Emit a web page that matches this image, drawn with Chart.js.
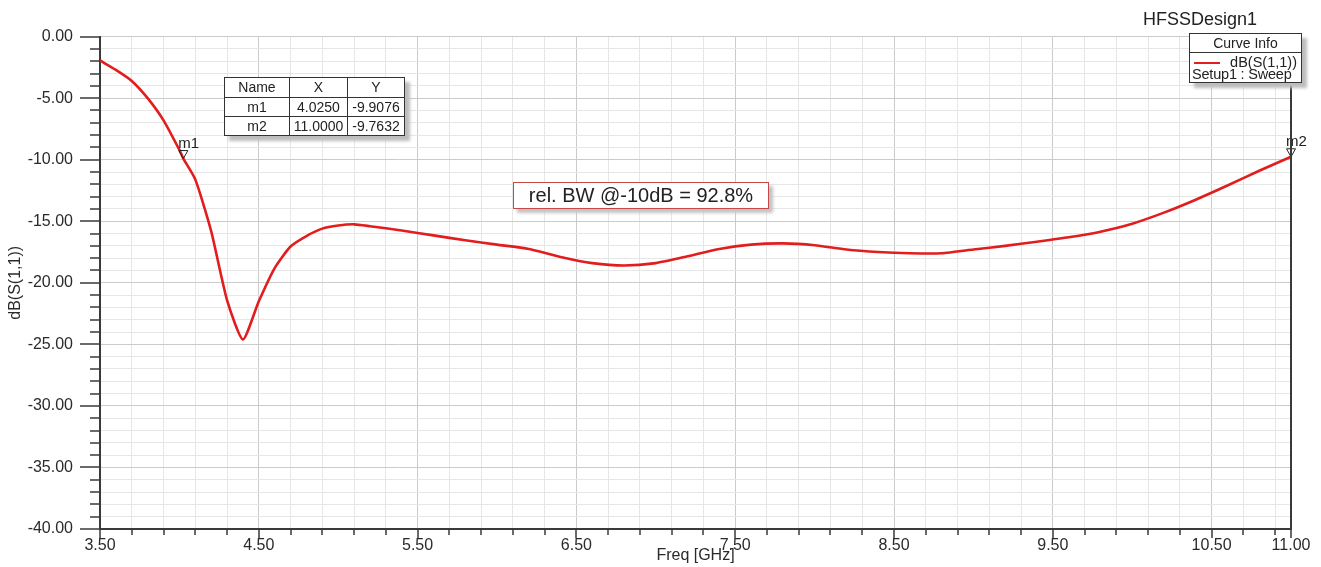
<!DOCTYPE html>
<html>
<head>
<meta charset="utf-8">
<script src="https://cdn.jsdelivr.net/npm/chart.js@4.4.1/dist/chart.umd.min.js"></script>
<style>
  html, body { margin: 0; padding: 0; background: #fff; }
  body { font-family: "Liberation Sans", Arial, sans-serif; color: #222; }
  #wrap { position: relative; width: 1321px; height: 567px; overflow: hidden; }
  #plot { position: absolute; left: 0; top: 0; }
  .design { position: absolute; left: 1143px; top: 8px; font-size: 18px; line-height: 22px; }
  .curveInfo { position: absolute; left: 1189px; top: 33px; width: 111px; height: 48px; background: #fff;
    border: 1px solid #333; box-shadow: 5px 5px 3px #bdbdbd; font-size: 14px; }
  .curveInfo .hd { height: 18px; line-height: 18px; text-align: center; border-bottom: 1px solid #333; }
  .curveInfo .sw { position: absolute; left: 4px; top: 28px; width: 26px; height: 2px; background: #e02020; }
  .curveInfo .nm { position: absolute; right: 4px; top: 21px; font-size: 14.5px; line-height: 15px; }
  .curveInfo .st { position: absolute; left: 2px; top: 33px; font-size: 14.5px; line-height: 15px; white-space: nowrap; letter-spacing: -0.2px; }
  .mk { position: absolute; left: 224px; top: 77px; border-collapse: collapse; background: #fff;
    box-shadow: 5px 5px 3px #bdbdbd; font-size: 14px; }
  .mk td { border: 1px solid #333; text-align: center; padding: 0; height: 18px; line-height: 17px; }
  .bw { position: absolute; left: 513px; top: 182px; width: 254px; height: 25px; line-height: 25px; background: #fff;
    border: 1px solid #c84848; box-shadow: 4px 4px 3px #c4c4c4; font-size: 20px; text-align: center; }
</style>
</head>
<body>
<div id="wrap">
  <canvas id="plot" width="1321" height="567"></canvas>
  <div class="design">HFSSDesign1</div>
  <div class="curveInfo">
    <div class="hd">Curve Info</div>
    <div class="sw"></div>
    <div class="nm">dB(S(1,1))</div>
    <div class="st">Setup1 : Sweep</div>
  </div>
  <table class="mk" id="markerTable"></table>
  <div class="bw">rel. BW @-10dB = 92.8%</div>
</div>
<script>
// ─── S11 SWEEP DATA ──────────────────────────────────────────────────────────
const freqGHz = [3.5, 3.6, 3.7, 3.8, 3.9, 4.0, 4.025, 4.1, 4.2, 4.3, 4.4, 4.5, 4.6, 4.7, 4.8, 4.9,
  5.0, 5.1, 5.2, 5.4, 5.6, 5.8, 6.0, 6.2, 6.4, 6.6, 6.8, 7.0, 7.2, 7.4, 7.6, 7.8, 8.0, 8.2,
  8.4, 8.6, 8.8, 9.0, 9.2, 9.4, 9.6, 9.8, 10.0, 10.2, 10.4, 10.6, 10.8, 11.0];
const s11dB = [-1.94, -2.7, -3.6, -5.0, -6.8, -9.2, -9.91, -11.6, -15.8, -21.4, -24.6, -21.5, -18.8, -17.05, -16.2, -15.6,
  -15.35, -15.25, -15.4, -15.75, -16.15, -16.55, -16.9, -17.25, -17.9, -18.4, -18.6, -18.4, -17.85, -17.25, -16.9, -16.8, -16.95, -17.3,
  -17.5, -17.6, -17.6, -17.3, -17.0, -16.66, -16.3, -15.85, -15.2, -14.3, -13.25, -12.1, -10.9, -9.76];

const markerNames = ['m1', 'm2'];
const markerFreq = [4.025, 11.0];
const markerDb = [-9.9076, -9.7632];
const markerFreqText = ['4.0250', '11.0000'];
const markerDbText = ['-9.9076', '-9.7632'];

const xLabelValues = [3.5, 4.5, 5.5, 6.5, 7.5, 8.5, 9.5, 10.5, 11.0];
const xTickLabels = ['3.50', '4.50', '5.50', '6.50', '7.50', '8.50', '9.50', '10.50', '11.00'];
const yLabelValues = [0, -5, -10, -15, -20, -25, -30, -35, -40];
const yTickLabels = ['0.00', '-5.00', '-10.00', '-15.00', '-20.00', '-25.00', '-30.00', '-35.00', '-40.00'];

const FONT = '"Liberation Sans", Arial, sans-serif';

function labelIndex(list, v) {
  return list.findIndex(l => Math.abs(l - v) < 1e-6);
}

// marker table
(function buildTable() {
  let html = '<tr><td style="width:64px;height:19px">Name</td><td style="width:57px">X</td><td style="width:56px">Y</td></tr>';
  markerNames.forEach((n, i) => {
    html += `<tr><td>${n}</td><td>${markerFreqText[i]}</td><td>${markerDbText[i]}</td></tr>`;
  });
  document.getElementById('markerTable').innerHTML = html;
})();

// tick marks + right frame line
const axisTicks = {
  id: 'axisTicks',
  afterDraw(chart) {
    const { ctx, chartArea: a, scales: { x, y } } = chart;
    ctx.save();
    ctx.strokeStyle = '#3a3a3a';
    ctx.lineWidth = 1.5;
    ctx.beginPath();
    x.ticks.forEach(t => {
      const px = Math.round(x.getPixelForValue(t.value));
      const len = labelIndex(xLabelValues, t.value) >= 0 ? 9 : 6;
      ctx.moveTo(px, a.bottom); ctx.lineTo(px, a.bottom + len);
    });
    y.ticks.forEach(t => {
      const py = Math.round(y.getPixelForValue(t.value));
      const len = labelIndex(yLabelValues, t.value) >= 0 ? 20 : 10;
      ctx.moveTo(a.left - len, py); ctx.lineTo(a.left, py);
    });
    ctx.stroke();
    ctx.lineWidth = 2;
    ctx.beginPath();
    ctx.moveTo(a.right, a.top); ctx.lineTo(a.right, a.bottom);
    ctx.stroke();
    ctx.restore();
  }
};

// HFSS style markers (inverted triangle with name)
const markers = {
  id: 'markers',
  afterDatasetsDraw(chart) {
    const { ctx, scales: { x, y } } = chart;
    ctx.save();
    ctx.strokeStyle = '#222';
    ctx.fillStyle = '#222';
    ctx.lineWidth = 1;
    ctx.font = '15px ' + FONT;
    ctx.textAlign = 'left';
    ctx.textBaseline = 'alphabetic';
    markerNames.forEach((n, i) => {
      const px = x.getPixelForValue(markerFreq[i]);
      const py = y.getPixelForValue(markerDb[i]);
      ctx.beginPath();
      ctx.moveTo(px, py);
      ctx.lineTo(px - 4.5, py - 8);
      ctx.lineTo(px + 4.5, py - 8);
      ctx.closePath();
      ctx.stroke();
      ctx.fillText(n, px - 5, py - 11);
    });
    ctx.restore();
  }
};

new Chart(document.getElementById('plot').getContext('2d'), {
  type: 'line',
  data: {
    datasets: [{
      label: 'dB(S(1,1))',
      data: freqGHz.map((f, i) => ({ x: f, y: s11dB[i] })),
      borderColor: '#e21d1d',
      borderWidth: 2.6,
      pointRadius: 0,
      tension: 0.2,
      fill: false
    }]
  },
  options: {
    responsive: false,
    animation: false,
    events: [],
    layout: { padding: { left: 0, top: 35, right: 30, bottom: 0 } },
    plugins: { legend: { display: false }, tooltip: { enabled: false } },
    scales: {
      x: {
        type: 'linear',
        min: 3.5,
        max: 11,
        afterBuildTicks: s => {
          const t = [];
          for (let k = 0; k < 38; k++) t.push({ value: Math.round((3.5 + 0.2 * k) * 1000) / 1000 });
          t.push({ value: 11 });
          s.ticks = t;
        },
        afterFit: s => { s.height = 38; },
        grid: {
          drawTicks: false,
          color: c => labelIndex(xLabelValues, c.tick.value) >= 0 ? '#cbcbcb' : '#e6e6e6',
          lineWidth: 1
        },
        border: { display: true, color: '#3a3a3a', width: 2 },
        ticks: {
          autoSkip: false,
          maxRotation: 0,
          padding: 7,
          color: '#2a2a2a',
          font: { family: FONT, size: 16 },
          callback: v => { const i = labelIndex(xLabelValues, v); return i >= 0 ? xTickLabels[i] : ''; }
        },
        title: {
          display: true,
          text: 'Freq [GHz]',
          color: '#2a2a2a',
          font: { family: FONT, size: 16 },
          padding: { top: 0, bottom: 2 }
        }
      },
      y: {
        type: 'linear',
        min: -40,
        max: 0,
        afterBuildTicks: s => {
          const t = [];
          for (let v = 0; v >= -40; v--) t.push({ value: v });
          s.ticks = t;
        },
        afterFit: s => { s.width = 100; },
        grid: {
          drawTicks: false,
          color: c => labelIndex(yLabelValues, c.tick.value) >= 0 ? '#cbcbcb' : '#e6e6e6',
          lineWidth: 1
        },
        border: { display: true, color: '#3a3a3a', width: 2 },
        ticks: {
          autoSkip: false,
          padding: 27,
          color: '#2a2a2a',
          font: { family: FONT, size: 16 },
          callback: v => { const i = labelIndex(yLabelValues, v); return i >= 0 ? yTickLabels[i] : ''; }
        },
        title: {
          display: true,
          text: 'dB(S(1,1))',
          color: '#2a2a2a',
          font: { family: FONT, size: 16 },
          padding: { top: 6, bottom: 0 }
        }
      }
    }
  },
  plugins: [axisTicks, markers]
});
</script>
</body>
</html>
